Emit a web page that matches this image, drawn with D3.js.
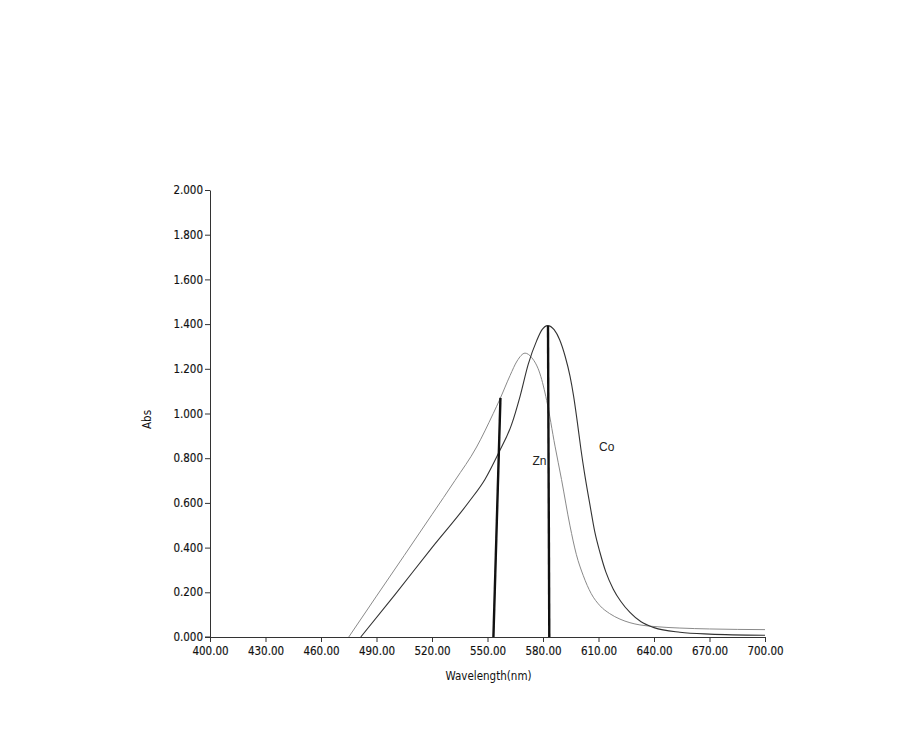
<!DOCTYPE html>
<html>
<head>
<meta charset="utf-8">
<script src="https://cdn.jsdelivr.net/npm/d3@7"></script>
<style>
  body { margin: 0; background: #fff; }
  svg { display: block; }
  .tick text { font-family: "DejaVu Sans Condensed", "DejaVu Sans", sans-serif; font-size: 11.5px; fill: #111; stroke: #111; stroke-width: 0.15px; }
  .axis path, .axis line { stroke: #333; stroke-width: 1; }
  .axis-title { font-family: "DejaVu Sans Condensed", "DejaVu Sans", sans-serif; font-size: 11.5px; fill: #111; }
  .curve-label { font-family: "Liberation Sans", Arial, sans-serif; font-size: 12px; fill: #222; }
</style>
</head>
<body>
<svg id="chart"></svg>
<script>
// spectrum: wavelength (nm) and absorbance
const znWavelength = [475, 490, 505, 520, 532.4, 544.1, 553.1, 556.8, 562.2, 566, 570.3, 573.9, 578.4, 582, 586.5, 590, 594.6, 598, 601.8, 606, 610.8, 616, 621.6, 627, 632.4, 640, 654, 670, 700];
const znAbs = [0, 0.183, 0.365, 0.548, 0.70, 0.85, 1.0, 1.066, 1.17, 1.235, 1.27, 1.25, 1.177, 1.058, 0.854, 0.705, 0.497, 0.37, 0.274, 0.195, 0.14, 0.105, 0.08, 0.064, 0.054, 0.047, 0.04, 0.036, 0.033];

const coWavelength = [481.5, 500, 520, 540, 548.6, 555.8, 563, 567.6, 572, 576.6, 579.5, 582.5, 586, 589, 592, 594.6, 596.5, 598.5, 600.5, 602.5, 605.4, 608, 610.8, 614, 618, 622, 627, 633, 640, 654, 670, 700];
const coAbs = [0, 0.19, 0.40, 0.605, 0.705, 0.82, 0.95, 1.077, 1.22, 1.326, 1.375, 1.393, 1.375, 1.33, 1.255, 1.167, 1.08, 0.965, 0.84, 0.73, 0.59, 0.47, 0.378, 0.29, 0.214, 0.16, 0.11, 0.068, 0.042, 0.021, 0.013, 0.008];

// the two hand-drawn marker strokes on the scan: bottom wavelength, top wavelength, top abs
const markerBottomWl = [553.2, 583.4];
const markerTopWl = [557.0, 582.7];
const markerTopAbs = [1.07, 1.393];

const curveLabels = ['Zn', 'Co'];
const labelWl = [574.3, 610.3];
const labelAbs = [0.77, 0.83];

const xTicks = [400, 430, 460, 490, 520, 550, 580, 610, 640, 670, 700];
const yTicks = [0, 0.2, 0.4, 0.6, 0.8, 1.0, 1.2, 1.4, 1.6, 1.8, 2.0];

const width = 912, height = 743;
const margin = { top: 190, right: 147, bottom: 106, left: 210 };
const innerW = width - margin.left - margin.right;
const innerH = height - margin.top - margin.bottom;

const svg = d3.select('#chart').attr('width', width).attr('height', height);
const chart = svg.append('g').attr('transform', `translate(${margin.left},${margin.top})`);

const x = d3.scaleLinear().domain([400, 700]).range([0, innerW]);
const y = d3.scaleLinear().domain([0, 2]).range([innerH, 0]);

const xAxis = d3.axisBottom(x).tickValues(xTicks).tickFormat(d3.format('.2f')).tickSize(5).tickSizeOuter(0).tickPadding(5);
const yAxis = d3.axisLeft(y).tickValues(yTicks).tickFormat(d3.format('.3f')).tickSize(5).tickSizeOuter(0).tickPadding(2);

chart.append('g').attr('class', 'axis x-axis')
  .attr('transform', `translate(0,${innerH})`)
  .call(xAxis);
chart.append('g').attr('class', 'axis y-axis')
  .call(yAxis);

// small stub of the baseline left of the y axis, as on the print
chart.append('line')
  .attr('x1', -5).attr('x2', 0)
  .attr('y1', y(0)).attr('y2', y(0))
  .attr('stroke', '#333');

const line = d3.line()
  .x(d => x(d[0]))
  .y(d => y(d[1]))
  .curve(d3.curveMonotoneX);

chart.append('path')
  .datum(d3.zip(znWavelength, znAbs))
  .attr('fill', 'none')
  .attr('stroke', '#8a8a8a')
  .attr('stroke-width', 1)
  .attr('d', line);

chart.append('path')
  .datum(d3.zip(coWavelength, coAbs))
  .attr('fill', 'none')
  .attr('stroke', '#333')
  .attr('stroke-width', 1.1)
  .attr('d', line);

chart.selectAll('.marker')
  .data(d3.range(markerBottomWl.length))
  .enter().append('line')
  .attr('class', 'marker')
  .attr('x1', i => x(markerBottomWl[i]))
  .attr('y1', y(0))
  .attr('x2', i => x(markerTopWl[i]))
  .attr('y2', i => y(markerTopAbs[i]))
  .attr('stroke', '#111')
  .attr('stroke-width', 2.4);

chart.selectAll('.curve-label')
  .data(curveLabels)
  .enter().append('text')
  .attr('class', 'curve-label')
  .attr('x', (d, i) => x(labelWl[i]))
  .attr('y', (d, i) => y(labelAbs[i]))
  .text(d => d);

chart.append('text')
  .attr('class', 'axis-title')
  .attr('x', innerW / 2 + 1)
  .attr('y', innerH + 43)
  .attr('text-anchor', 'middle')
  .text('Wavelength(nm)');

chart.append('text')
  .attr('class', 'axis-title')
  .attr('transform', 'rotate(-90)')
  .attr('x', -innerH / 2 - 6)
  .attr('y', -59)
  .attr('text-anchor', 'middle')
  .text('Abs');
</script>
</body>
</html>
